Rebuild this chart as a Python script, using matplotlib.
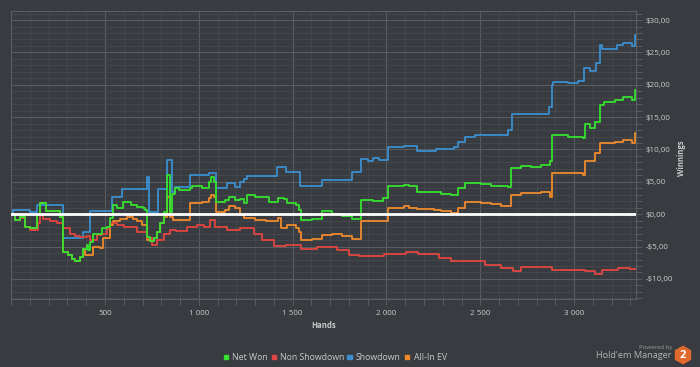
import matplotlib
matplotlib.use("Agg")
import matplotlib.pyplot as plt
from matplotlib.ticker import MultipleLocator, FuncFormatter
from matplotlib.patches import RegularPolygon, Rectangle

# ---- data (hand number, cumulative winnings in $) ----
net_won_hands = [0, 19, 45, 72, 99, 135, 152, 188, 259, 277, 304, 322, 340, 366, 384,
                 402, 411, 420, 437, 482, 509, 527, 545, 563, 598, 640, 670, 700, 714,
                 723, 741, 760, 776, 794, 812, 830, 848, 857, 874, 892, 955, 964, 1017,
                 1052, 1067, 1079, 1092, 1142, 1159, 1195, 1222, 1240, 1258, 1300, 1373,
                 1421, 1453, 1471, 1516, 1534, 1543, 1605, 1658, 1712, 1765, 1819, 1864,
                 1926, 1979, 2006, 2095, 2122, 2163, 2256, 2291, 2345, 2381, 2416, 2505,
                 2559, 2612, 2648, 2666, 2719, 2773, 2826, 2871, 2884, 2969, 3049, 3058,
                 3084, 3111, 3138, 3160, 3218, 3263, 3307, 3325, 3330]
net_won = [0, -0.9, -0.5, -2.0, -2.2, -0.1, 1.8, 0.5, -0.4, -5.8, -6.3, -6.9, -7.2, -6.6,
           -5.3, -4.8, -5.5, -4.3, -3.0, -2.2, -2.0, -0.65, 1.4, 1.0, 1.9, 1.4, 1.1, 0.9,
           0.6, -3.5, -4.2, -3.7, -2.7, -1.4, 0.4, 6.1, 0.4, 3.2, 4.0, 3.8, 4.0, 4.3, 4.0,
           5.0, 5.8, 5.0, 1.9, 2.2, 2.7, 2.2, 2.4, 1.7, 3.0, 2.6, 1.9, 2.5, 2.3, 1.7, 1.5,
           0.65, -0.9, -0.75, 0.55, 0.05, -0.3, -0.8, 2.2, 2.1, 2.5, 4.3, 4.5, 4.3, 3.5,
           3.4, 3.2, 3.0, 4.0, 4.8, 4.6, 4.4, 4.3, 4.2, 7.1, 7.5, 7.3, 7.6, 8.2, 12.2, 12.0,
           11.7, 14.0, 13.3, 14.3, 16.8, 17.3, 17.7, 18.1, 17.6, 19.2, 19.2]

non_sd_hands = [0, 19, 45, 72, 99, 125, 143, 152, 170, 206, 242, 277, 313, 340, 366, 402,
                420, 456, 482, 509, 527, 563, 600, 640, 670, 723, 750, 776, 812, 848, 880,
                937, 990, 1030, 1061, 1088, 1151, 1222, 1293, 1338, 1400, 1462, 1543, 1632,
                1686, 1739, 1801, 1855, 1900, 1988, 2104, 2167, 2256, 2282, 2345, 2434, 2523,
                2612, 2675, 2719, 2790, 2880, 2969, 3058, 3111, 3147, 3236, 3300, 3330]
non_showdown = [0, -0.9, -0.6, -2.0, -2.5, -2.4, -1.4, -0.15, -0.7, -1.1, -1.4, -2.2, -3.0,
                -3.3, -3.5, -3.3, -4.0, -3.2, -3.0, -2.2, -1.4, -1.7, -1.9, -2.0, -2.7,
                -3.75, -4.7, -4.0, -3.1, -2.4, -2.6, -2.0, -1.65, -1.9, -0.9, -2.0, -2.4,
                -2.2, -3.1, -4.0, -4.9, -4.8, -5.3, -5.1, -5.0, -5.5, -6.3, -6.4, -6.4, -6.1,
                -5.9, -6.2, -6.1, -6.8, -7.2, -7.3, -7.8, -8.3, -8.7, -8.1, -8.1, -8.6, -8.6,
                -8.7, -9.2, -8.6, -8.3, -8.5, -8.4]

sd_hands = [0, 10, 100, 140, 277, 384, 420, 539, 589, 723, 735, 783, 830, 857, 875, 955,
            1052, 1092, 1151, 1194, 1222, 1240, 1258, 1418, 1462, 1539, 1658, 1819, 1864,
            1900, 1926, 1960, 2009, 2095, 2163, 2255, 2265, 2362, 2380, 2416, 2470, 2650,
            2671, 2867, 2880, 2890, 2969, 3019, 3054, 3084, 3116, 3138, 3150, 3227, 3260,
            3307, 3325, 3330]
showdown = [0, 0.6, 0.3, 1.4, -3.6, -2.8, 0.5, 2.6, 3.9, 5.75, 0.35, 3.9, 8.4, 3.4, 4.2,
            6.0, 6.4, 4.0, 4.8, 4.2, 5.0, 5.5, 5.9, 7.3, 6.5, 4.3, 5.35, 6.5, 8.5, 8.3, 8.75,
            8.4, 10.4, 10.6, 9.8, 9.7, 10.1, 10.4, 11.2, 11.9, 12.3, 13.0, 15.5, 16.6, 19.9,
            20.5, 20.3, 20.6, 22.6, 22.1, 23.4, 26.1, 25.6, 26.1, 26.4, 26.0, 27.7, 27.7]

ev_hands = [0, 19, 45, 72, 99, 135, 152, 188, 259, 277, 304, 322, 340, 366, 384, 395, 437,
            473, 491, 527, 545, 580, 616, 650, 670, 696, 723, 741, 760, 776, 794, 812, 830,
            848, 865, 955, 1017, 1052, 1067, 1079, 1092, 1142, 1159, 1195, 1222, 1240, 1302,
            1356, 1421, 1440, 1471, 1516, 1534, 1543, 1605, 1658, 1712, 1765, 1819, 1864,
            1926, 2006, 2095, 2122, 2163, 2256, 2291, 2345, 2381, 2416, 2505, 2559, 2612,
            2666, 2719, 2826, 2871, 2884, 2969, 3049, 3058, 3111, 3138, 3218, 3263, 3307,
            3325, 3330]
all_in_ev = [0, -0.9, -0.5, -2.0, -2.2, -0.1, 1.8, 0.5, -0.4, -5.8, -6.3, -6.9, -7.2, -6.6,
             -5.3, -6.3, -5.0, -5.2, -3.75, -1.7, -1.1, -0.7, -0.4, -0.8, -1.0, -1.7, -4.0,
             -4.2, -3.7, -2.7, -1.4, -0.4, 2.7, -0.4, -0.9, 1.7, 1.9, 2.5, 3.0, 2.6, 0.4,
             0.6, 1.2, 0.9, -0.1, -0.6, -0.9, -1.1, -0.6, -2.2, -1.7, -2.2, -2.7, -4.0,
             -3.8, -3.2, -3.0, -3.4, -3.9, -1.0, -1.1, 0.9, 1.2, 1.0, 0.8, 0.7, 0.5, 0.15,
             0.9, 1.9, 1.8, 1.6, 1.3, 3.0, 3.3, 3.4, 2.6, 6.4, 6.3, 6.1, 8.3, 9.4, 11.0,
             11.2, 11.5, 11.0, 12.6, 12.6]

series = [
    ("Net Won", net_won_hands, net_won, "#35e22f"),
    ("Non Showdown", non_sd_hands, non_showdown, "#e2453f"),
    ("Showdown", sd_hands, showdown, "#3b8fd0"),
    ("All-In EV", ev_hands, all_in_ev, "#ef8a2c"),
]
# drawing order, bottom to top
draw_order = ["Showdown", "All-In EV", "Non Showdown", "Net Won"]

BG = "#383b3f"
TXT = "#c9cacb"
plt.rcParams['font.family'] = ['Open Sans', 'DejaVu Sans']

fig = plt.figure(figsize=(7, 3.67), dpi=100, facecolor=BG)
ax = fig.add_axes([11.2 / 700, 68 / 367, 624.8 / 700, 288 / 367], facecolor=BG)

lookup = {s[0]: s for s in series}
for z, name in enumerate(draw_order):
    _, hx, hy, col = lookup[name]
    ax.step(hx, hy, where='post', color=col, lw=1.3, zorder=3 + z * 0.1)

ax.axhline(0, color='white', lw=2, zorder=6)

ax.set_xlim(0, 3330)
ax.set_ylim(-13.1, 31.4)

ax.xaxis.set_major_locator(MultipleLocator(500))
ax.xaxis.set_minor_locator(MultipleLocator(100))
ax.yaxis.set_major_locator(MultipleLocator(5))
ax.yaxis.set_minor_locator(MultipleLocator(1))

ax.xaxis.set_major_formatter(
    FuncFormatter(lambda v, p: "" if v == 0 else f"{int(v):,}".replace(",", " ")))


def money(v, p):
    s = f"${abs(v):.2f}".replace(".", ",")
    return "-" + s if v < 0 else s


ax.yaxis.set_major_formatter(FuncFormatter(money))
ax.yaxis.tick_right()

ax.grid(which='major', color='#595c60', lw=0.8)
ax.grid(which='minor', color='#46494d', lw=0.6)
ax.set_axisbelow(True)

for sp in ax.spines.values():
    sp.set_color('#5a5d61')
    sp.set_linewidth(0.8)

ax.tick_params(which='both', colors='#5a5d61', length=4, width=0.7,
               labelcolor=TXT, labelsize=5.8)
ax.tick_params(axis='x', which='major', pad=4)
ax.tick_params(axis='y', which='major', pad=3)

fig.text(323.5 / 700, 1 - 326 / 367, "Hands", color=TXT, fontsize=5.6,
         fontweight='bold', ha='center', va='center')
fig.text(682 / 700, 1 - 158 / 367, "Winnings", color=TXT, fontsize=5.6,
         fontweight='bold', ha='center', va='center', rotation=90)

# legend drawn in figure pixels
leg_x = [(226, 232), (274, 280), (349.5, 356), (407, 413.5)]
for (name, hx, hy, col), (sx, tx) in zip(series, leg_x):
    fig.patches.append(Rectangle(((sx - 2.2) / 700, 1 - 359 / 367), 4.4 / 700, 4.4 / 367,
                                 transform=fig.transFigure, color=col))
    fig.text(tx / 700, 1 - 357 / 367, name, color=TXT, fontsize=6.3,
             ha='left', va='center')

# "Powered by Hold'em Manager 2" badge
fig.text(672 / 700, 1 - 347.5 / 367, "Powered by", color='#9a9b9c', fontsize=4.3,
         ha='right', va='center')
fig.text(672 / 700, 1 - 356 / 367, "Hold'em Manager", color='#b3b4b5', fontsize=6.6,
         ha='right', va='center')
hexagon = RegularPolygon((6.83, 3.67 - 3.55), numVertices=6, radius=0.095,
                         orientation=0, transform=fig.dpi_scale_trans,
                         facecolor='#e0692b', edgecolor='none')
fig.patches.append(hexagon)
fig.text(683 / 700, 1 - 355 / 367, "2", color='white', fontsize=8, fontweight='bold',
         ha='center', va='center')

fig.savefig("out.png", dpi=100, facecolor=BG)
